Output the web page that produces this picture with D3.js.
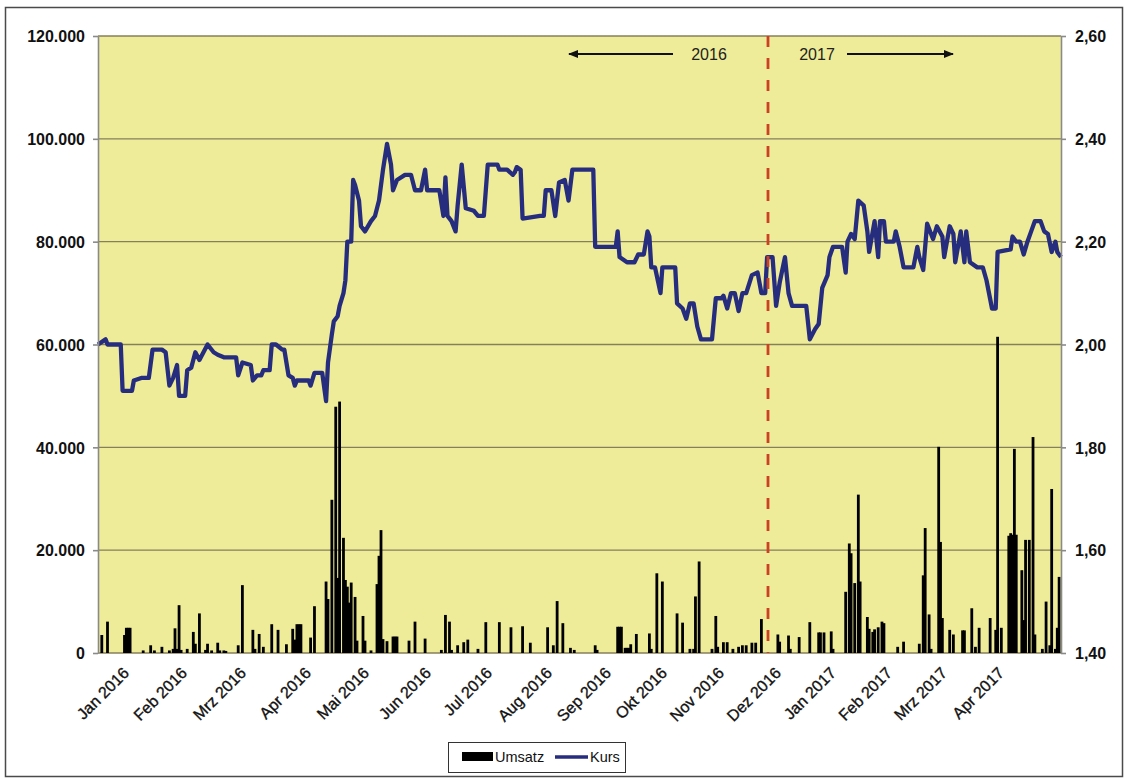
<!DOCTYPE html>
<html>
<head>
<meta charset="utf-8">
<script src="https://cdn.jsdelivr.net/npm/d3@7"></script>
<style>
  body { margin: 0; background: #fff; font-family: Arial, "Liberation Sans", sans-serif; }
  .yaxis text { font-size: 16px; font-weight: bold; fill: #111; }
  .yaxis path, .yaxis line { stroke: #8a8a8a; stroke-width: 1.6; }
  .xlabel { font-size: 16px; fill: #111; stroke: #111; stroke-width: 0.35; }
  .legend text { font-size: 14.5px; fill: #111; }
</style>
</head>
<body>
<svg width="1128" height="778"></svg>
<script>
// x categories: month starts with their labels
var monthStarts = ["2016-01-01","2016-02-01","2016-03-01","2016-04-01","2016-05-01","2016-06-01",
                   "2016-07-01","2016-08-01","2016-09-01","2016-10-01","2016-11-01","2016-12-01",
                   "2017-01-01","2017-02-01","2017-03-01","2017-04-01"];
var monthLabels = ["Jan 2016","Feb 2016","Mrz 2016","Apr 2016","Mai 2016","Jun 2016","Jul 2016","Aug 2016",
                   "Sep 2016","Okt 2016","Nov 2016","Dez 2016","Jan 2017","Feb 2017","Mrz 2017","Apr 2017"];
var firstDay = "2015-12-22", lastDay = "2017-05-08";
var yearSplit = "2016-12-01";

var umsatzTicks = [0, 20000, 40000, 60000, 80000, 100000, 120000];
var kursTicks = [1.4, 1.6, 1.8, 2.0, 2.2, 2.4, 2.6];

// Kurs (right axis)
var kursDates = ["2015-12-22","2015-12-26","2015-12-27","2016-01-03","2016-01-04","2016-01-09","2016-01-10","2016-01-14",
  "2016-01-18","2016-01-20","2016-01-25","2016-01-27","2016-01-29","2016-01-31","2016-02-02","2016-02-03","2016-02-06",
  "2016-02-07","2016-02-09","2016-02-11","2016-02-13","2016-02-15","2016-02-17","2016-02-20","2016-02-22","2016-02-25",
  "2016-03-02","2016-03-03","2016-03-05","2016-03-09","2016-03-10","2016-03-12","2016-03-14","2016-03-15","2016-03-18",
  "2016-03-19","2016-03-21","2016-03-24","2016-03-25","2016-03-27","2016-03-29","2016-03-30","2016-03-31","2016-04-06",
  "2016-04-07","2016-04-09","2016-04-13","2016-04-15","2016-04-16","2016-04-18","2016-04-19","2016-04-21","2016-04-22",
  "2016-04-24","2016-04-25","2016-04-26","2016-04-28","2016-04-29","2016-04-30","2016-05-02","2016-05-03","2016-05-05",
  "2016-05-08","2016-05-10","2016-05-12","2016-05-14","2016-05-16","2016-05-18","2016-05-19","2016-05-21","2016-05-25",
  "2016-05-28","2016-05-30","2016-06-02","2016-06-04","2016-06-05","2016-06-11","2016-06-13","2016-06-14","2016-06-15",
  "2016-06-17","2016-06-19","2016-06-20","2016-06-22","2016-06-24","2016-06-28","2016-06-30","2016-07-03","2016-07-05",
  "2016-07-10","2016-07-11","2016-07-15","2016-07-18","2016-07-19","2016-07-20","2016-07-22","2016-07-23","2016-08-01",
  "2016-08-03","2016-08-04","2016-08-07","2016-08-09","2016-08-11","2016-08-14","2016-08-16","2016-08-18","2016-08-29",
  "2016-08-30","2016-09-10","2016-09-11","2016-09-12","2016-09-16","2016-09-20","2016-09-22","2016-09-25","2016-09-27",
  "2016-09-28","2016-09-29","2016-10-01","2016-10-04","2016-10-05","2016-10-12","2016-10-13","2016-10-16","2016-10-18",
  "2016-10-20","2016-10-22","2016-10-24","2016-10-26","2016-11-01","2016-11-03","2016-11-06","2016-11-07","2016-11-09",
  "2016-11-11","2016-11-13","2016-11-15","2016-11-17","2016-11-19","2016-11-22","2016-11-25","2016-11-26","2016-11-27",
  "2016-11-29","2016-11-30","2016-12-03","2016-12-05","2016-12-07","2016-12-10","2016-12-12","2016-12-14","2016-12-22",
  "2016-12-24","2016-12-27","2016-12-29","2016-12-31","2017-01-03","2017-01-04","2017-01-06","2017-01-11","2017-01-13",
  "2017-01-14","2017-01-16","2017-01-18","2017-01-20","2017-01-23","2017-01-25","2017-01-26","2017-01-29","2017-01-31",
  "2017-02-01","2017-02-03","2017-02-04","2017-02-08","2017-02-09","2017-02-11","2017-02-13","2017-02-18","2017-02-20",
  "2017-02-21","2017-02-23","2017-02-25","2017-02-28","2017-03-02","2017-03-05","2017-03-06","2017-03-09","2017-03-11",
  "2017-03-12","2017-03-15","2017-03-17","2017-03-18","2017-03-20","2017-03-24","2017-03-27","2017-03-29","2017-04-01",
  "2017-04-03","2017-04-04","2017-04-11","2017-04-12","2017-04-14","2017-04-16","2017-04-18","2017-04-20","2017-04-22",
  "2017-04-24","2017-04-27","2017-04-29","2017-05-01","2017-05-03","2017-05-05","2017-05-06","2017-05-08"];
var kursValues = [2.00,2.01,2.00,2.00,1.91,1.91,1.93,1.935,
  1.935,1.99,1.99,1.985,1.92,1.935,1.96,1.90,1.90,
  1.95,1.955,1.985,1.97,1.985,2.00,1.985,1.98,1.975,
  1.975,1.94,1.965,1.96,1.93,1.94,1.94,1.95,1.95,
  2.00,2.00,1.99,1.99,1.94,1.935,1.92,1.93,1.93,
  1.92,1.945,1.945,1.89,1.965,2.02,2.045,2.055,2.075,
  2.10,2.125,2.20,2.20,2.32,2.31,2.28,2.23,2.22,
  2.24,2.25,2.28,2.34,2.39,2.35,2.30,2.32,2.33,
  2.33,2.30,2.30,2.34,2.30,2.30,2.25,2.325,2.25,
  2.24,2.22,2.27,2.35,2.265,2.26,2.25,2.25,2.35,
  2.35,2.34,2.34,2.33,2.335,2.345,2.34,2.245,2.25,
  2.25,2.30,2.30,2.25,2.315,2.32,2.28,2.34,2.34,
  2.19,2.19,2.22,2.17,2.16,2.16,2.175,2.175,2.22,
  2.21,2.15,2.15,2.10,2.15,2.15,2.08,2.07,2.05,
  2.08,2.08,2.035,2.01,2.01,2.09,2.09,2.095,2.07,
  2.10,2.10,2.065,2.10,2.10,2.135,2.14,2.12,2.10,
  2.10,2.17,2.17,2.075,2.12,2.17,2.10,2.075,2.075,
  2.01,2.03,2.04,2.11,2.135,2.17,2.19,2.19,2.14,
  2.20,2.215,2.205,2.28,2.27,2.22,2.18,2.24,2.17,
  2.24,2.24,2.20,2.20,2.22,2.19,2.15,2.15,2.19,
  2.17,2.145,2.235,2.205,2.23,2.21,2.17,2.23,2.215,
  2.16,2.22,2.16,2.22,2.16,2.15,2.15,2.125,2.07,
  2.07,2.18,2.185,2.21,2.20,2.20,2.175,2.20,2.22,
  2.24,2.24,2.22,2.215,2.18,2.20,2.18,2.17];

// Umsatz (left axis)
var umsatzDates = ["2015-12-24","2015-12-27","2016-01-05","2016-01-06","2016-01-07","2016-01-08","2016-01-15","2016-01-19",
  "2016-01-21","2016-01-25","2016-01-29","2016-01-31","2016-02-01","2016-02-02","2016-02-03","2016-02-04","2016-02-07",
  "2016-02-10","2016-02-11","2016-02-13","2016-02-16","2016-02-17","2016-02-19","2016-02-22","2016-02-23","2016-02-25",
  "2016-02-26","2016-03-03","2016-03-05","2016-03-10","2016-03-11","2016-03-13","2016-03-15","2016-03-19","2016-03-22",
  "2016-03-26","2016-03-29","2016-03-30","2016-03-31","2016-04-01","2016-04-02","2016-04-07","2016-04-09","2016-04-15",
  "2016-04-16","2016-04-18","2016-04-20","2016-04-21","2016-04-22","2016-04-24","2016-04-25","2016-04-26","2016-04-27",
  "2016-04-28","2016-04-30","2016-05-01","2016-05-04","2016-05-05","2016-05-08","2016-05-11","2016-05-12","2016-05-13",
  "2016-05-14","2016-05-16","2016-05-19","2016-05-20","2016-05-21","2016-05-27","2016-05-30","2016-06-04","2016-06-12",
  "2016-06-14","2016-06-16","2016-06-17","2016-06-20","2016-06-23","2016-06-25","2016-06-30","2016-07-04","2016-07-11",
  "2016-07-17","2016-07-23","2016-07-27","2016-08-05","2016-08-08","2016-08-10","2016-08-13","2016-08-17","2016-08-19",
  "2016-08-30","2016-08-31","2016-09-11","2016-09-12","2016-09-13","2016-09-15","2016-09-16","2016-09-17","2016-09-18",
  "2016-09-21","2016-09-28","2016-09-29","2016-10-02","2016-10-05","2016-10-13","2016-10-16","2016-10-20","2016-10-22",
  "2016-10-23","2016-10-25","2016-11-01","2016-11-03","2016-11-04","2016-11-07","2016-11-09","2016-11-12","2016-11-15",
  "2016-11-17","2016-11-19","2016-11-22","2016-11-24","2016-11-27","2016-12-06","2016-12-07","2016-12-12","2016-12-13",
  "2016-12-18","2016-12-24","2016-12-29","2016-12-30","2017-01-01","2017-01-05","2017-01-06","2017-01-13","2017-01-15",
  "2017-01-16","2017-01-18","2017-01-20","2017-01-21","2017-01-25","2017-01-26","2017-01-28","2017-01-29","2017-01-31",
  "2017-02-02","2017-02-03","2017-02-10","2017-02-13","2017-02-21","2017-02-23","2017-02-24","2017-02-26","2017-02-27",
  "2017-03-03","2017-03-04","2017-03-05","2017-03-09","2017-03-11","2017-03-16","2017-03-17","2017-03-21","2017-03-23",
  "2017-03-25","2017-03-31","2017-04-03","2017-04-04","2017-04-06","2017-04-10","2017-04-11","2017-04-12","2017-04-13",
  "2017-04-14","2017-04-17","2017-04-18","2017-04-19","2017-04-21","2017-04-23","2017-04-24","2017-04-28","2017-04-30",
  "2017-05-02","2017-05-03","2017-05-05","2017-05-06","2017-05-07"];
var umsatzValues = [3500,6100,3500,4900,4900,4900,500,1500,
  500,1200,500,800,4800,800,9300,600,800,
  4100,1800,7700,600,1800,500,2000,500,500,
  400,1500,13200,4500,800,3700,1200,5600,4500,
  1700,4700,2600,5600,5600,5600,3000,9100,13900,
  10500,29800,47900,14600,48900,22400,14200,12900,9800,
  13700,10900,2400,7200,2400,500,13400,18900,23900,
  2700,2300,3200,3200,3200,2400,6100,2800,600,
  7400,6100,600,1500,2100,2600,800,6000,6000,
  5000,5200,2000,5000,1500,10100,5800,1000,600,
  1500,600,5100,5100,5100,1000,1000,1000,1700,
  3700,3800,800,15500,13900,7700,5900,800,800,
  11000,17800,800,7200,1200,2100,2100,800,1200,
  1500,1500,2000,2000,6600,3600,2200,3400,800,
  3100,6000,4000,4000,4000,4200,800,11900,21300,
  19400,13600,30800,13900,7000,4700,4100,4600,5000,
  6100,5800,1200,2200,1800,15100,24300,7500,800,
  40100,21600,6800,4500,3600,4400,4400,8700,1200,
  4900,6800,4500,61500,4900,22800,23300,23000,39700,
  23000,16100,6400,22000,22000,42000,3600,800,10000,
  1500,31900,800,4900,14800];

// layout
var plotL = 98, plotR = 1061, plotT = 36, plotB = 653;
// where each month starts along the axis (the source axis is not calendar-uniform)
var monthTickX = [117,175,234,299,357,419,480,540,599,655,712,769,824,880,935,992];

var parse = d3.timeParse("%Y-%m-%d");
var de = d3.formatLocale({decimal: ",", thousands: ".", grouping: [3], currency: ["", " €"]});

var svg = d3.select("svg");

var x = d3.scaleTime()
    .domain([firstDay].concat(monthStarts, [lastDay]).map(parse))
    .range([plotL].concat(monthTickX, [plotR]));
var yL = d3.scaleLinear().domain([0, 120000]).range([plotB, plotT]);
var yR = d3.scaleLinear().domain([1.4, 2.6]).range([plotB, plotT]);

// outer frame
svg.append("rect")
    .attr("x", 5.5).attr("y", 7.5).attr("width", 1117).attr("height", 769)
    .attr("fill", "#fff").attr("stroke", "#4a4a4a").attr("stroke-width", 1.5);

// plot background
svg.append("rect")
    .attr("x", plotL).attr("y", plotT).attr("width", plotR - plotL).attr("height", plotB - plotT)
    .attr("fill", "#eeec98");

// gridlines
svg.append("g").selectAll("line")
    .data(umsatzTicks)
    .enter().append("line")
      .attr("x1", plotL).attr("x2", plotR)
      .attr("y1", function(d) { return yL(d); })
      .attr("y2", function(d) { return yL(d); })
      .attr("stroke", "#867f5c").attr("stroke-width", 1.4);

// Umsatz bars
var umsatz = umsatzDates.map(function(d, i) { return {date: parse(d), value: umsatzValues[i]}; });
svg.append("g").selectAll("rect")
    .data(umsatz)
    .enter().append("rect")
      .attr("x", function(d) { return x(d.date) - 1.4; })
      .attr("width", 2.8)
      .attr("y", function(d) { return yL(d.value); })
      .attr("height", function(d) { return plotB - yL(d.value); })
      .attr("fill", "#000");

// Kurs line
var kurs = kursDates.map(function(d, i) { return {date: parse(d), value: kursValues[i]}; });
var line = d3.line()
    .x(function(d) { return x(d.date); })
    .y(function(d) { return yR(d.value); });
svg.append("path")
    .datum(kurs)
    .attr("d", line)
    .attr("fill", "none")
    .attr("stroke", "#272d7e")
    .attr("stroke-width", 4.3)
    .attr("stroke-linejoin", "round");

// year split
var xs = x(parse(yearSplit)) - 1;
svg.append("line")
    .attr("x1", xs).attr("x2", xs).attr("y1", plotT).attr("y2", plotB)
    .attr("stroke", "#cc4125").attr("stroke-width", 2.8)
    .attr("stroke-dasharray", "11,11");

// axes
svg.append("g")
    .attr("class", "yaxis")
    .attr("transform", "translate(" + plotL + ",0)")
    .call(d3.axisLeft(yL).tickValues(umsatzTicks).tickSize(5).tickSizeOuter(0).tickPadding(8)
            .tickFormat(de.format(",.0f")));

svg.append("g")
    .attr("class", "yaxis")
    .attr("transform", "translate(" + plotR + ",0)")
    .call(d3.axisRight(yR).tickValues(kursTicks).tickSize(5).tickSizeOuter(0).tickPadding(9)
            .tickFormat(de.format(",.2f")));

svg.selectAll(".yaxis text").attr("dy", "0.36em");

// month labels, rotated
svg.append("g").selectAll("text")
    .data(monthStarts)
    .enter().append("text")
      .attr("class", "xlabel")
      .attr("text-anchor", "end")
      .attr("transform", function(d) {
          return "translate(" + (x(parse(d)) + 13) + ",674) rotate(-45)";
      })
      .text(function(d, i) { return monthLabels[i]; });

// year arrows
var defs = svg.append("defs");
defs.append("marker")
    .attr("id", "head")
    .attr("viewBox", "0 0 10 10")
    .attr("refX", 9).attr("refY", 5)
    .attr("markerWidth", 10).attr("markerHeight", 10)
    .attr("markerUnits", "userSpaceOnUse")
    .attr("orient", "auto")
  .append("path")
    .attr("d", "M0,1 L10,5 L0,9 Z")
    .attr("fill", "#111");

svg.append("line")
    .attr("x1", 673).attr("x2", 569).attr("y1", 54).attr("y2", 54)
    .attr("stroke", "#111").attr("stroke-width", 2)
    .attr("marker-end", "url(#head)");
svg.append("line")
    .attr("x1", 847).attr("x2", 953).attr("y1", 54).attr("y2", 54)
    .attr("stroke", "#111").attr("stroke-width", 2)
    .attr("marker-end", "url(#head)");
svg.append("text")
    .attr("x", 709).attr("y", 60).attr("text-anchor", "middle")
    .style("font-size", "16px").style("fill", "#222")
    .text("2016");
svg.append("text")
    .attr("x", 817).attr("y", 60).attr("text-anchor", "middle")
    .style("font-size", "16px").style("fill", "#222")
    .text("2017");

// legend
var lg = svg.append("g").attr("class", "legend");
lg.append("rect")
    .attr("x", 448.5).attr("y", 742.5).attr("width", 177).attr("height", 30)
    .attr("fill", "#fff").attr("stroke", "#333").attr("stroke-width", 1);
lg.append("rect")
    .attr("x", 462).attr("y", 752).attr("width", 31).attr("height", 9)
    .attr("fill", "#000");
lg.append("text").attr("x", 495).attr("y", 762).text("Umsatz");
lg.append("line")
    .attr("x1", 555).attr("x2", 588).attr("y1", 757).attr("y2", 757)
    .attr("stroke", "#272d7e").attr("stroke-width", 3.6);
lg.append("text").attr("x", 590).attr("y", 762).text("Kurs");
</script>
</body>
</html>
